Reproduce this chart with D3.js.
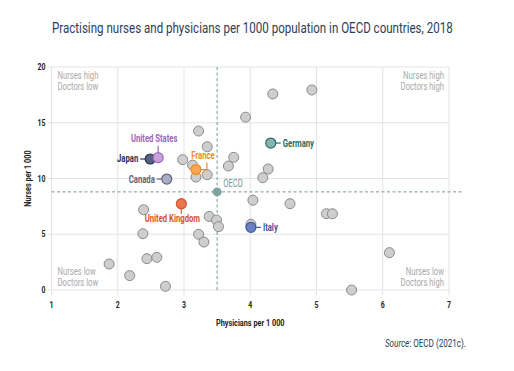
<!DOCTYPE html>
<html>
<head>
<meta charset="utf-8">
<script src="https://cdn.jsdelivr.net/npm/d3@7"></script>
<style>
  body { margin: 0; background: #fff; }
  svg text { font-family: Roboto, "Liberation Sans", sans-serif; }
</style>
</head>
<body>
<svg></svg>
<script>
const w = 514;
const h = 371;
const margin = { top: 67, right: 65, bottom: 81, left: 51.5 };
const squeeze = 0.77;

// other OECD countries (unlabelled)
const otherPhysicians = [1.87, 2.18, 2.38, 2.39, 2.44, 2.59, 2.72, 2.98, 3.13, 3.18, 3.22, 3.22, 3.30, 3.35, 3.35, 3.38, 3.49, 3.52, 3.67, 3.75, 3.93, 4.01, 4.04, 4.19, 4.27, 4.34, 4.60, 4.93, 5.15, 5.24, 5.53, 6.10];
const otherNurses = [2.33, 1.29, 5.05, 7.2, 2.81, 2.93, 0.33, 11.69, 11.2, 10.13, 14.26, 5.0, 4.3, 12.85, 10.34, 6.6, 6.28, 5.68, 11.12, 11.9, 15.5, 5.9, 8.05, 10.07, 10.85, 17.58, 7.74, 17.94, 6.84, 6.84, 0.0, 3.35];

// highlighted countries
const hlNames = ["Japan", "United States", "Canada", "France", "United Kingdom", "Germany", "Italy"];
const hlPhysicians = [2.49, 2.61, 2.74, 3.18, 2.96, 4.31, 4.01];
const hlNurses = [11.75, 11.87, 9.95, 10.8, 7.74, 13.18, 5.62];
const hlFill = ["#59637e", "#c8a2da", "#a9adc2", "#f8a650", "#e8764f", "#8ab3ad", "#6a82c4"];
const hlStroke = ["#27334f", "#a066bb", "#5f6482", "#f28a24", "#d5532f", "#1f6d69", "#3b56a0"];

const oecd = { physicians: 3.5, nurses: 8.8 };

const xTicks = [1, 2, 3, 4, 5, 6, 7];
const yTicks = [0, 5, 10, 15, 20];

const svg = d3.select("svg").attr("width", w).attr("height", h);

const x = d3.scaleLinear().domain([1, 7]).range([margin.left, w - margin.right]);
const y = d3.scaleLinear().domain([0, 20]).range([h - margin.bottom, margin.top]);

/** narrow text: the reference uses a condensed face */
const label = (px, py, str, opts = {}) => {
  const g = svg.append("g")
    .attr("transform", `translate(${px},${py}) rotate(${opts.rotate || 0}) scale(${opts.sx || squeeze},1)`);
  return g.append("text")
    .attr("text-anchor", opts.anchor || "start")
    .attr("font-size", opts.size || 9)
    .attr("font-weight", opts.weight || "normal")
    .attr("fill", opts.fill || "#222")
    .text(str);
};

// title, squeezed to the reference width
const title = label(52, 33, "Practising nurses and physicians per 1000 population in OECD countries, 2018",
  { size: 14, fill: "#2b3d58", sx: 1 });
const natural = title.node().getComputedTextLength();
d3.select(title.node().parentNode).attr("transform", `translate(52,33) scale(${401 / natural},1)`);

// gridlines
svg.append("g")
  .selectAll("line")
  .data(xTicks)
  .enter()
  .append("line")
  .attr("x1", (d) => x(d)).attr("x2", (d) => x(d))
  .attr("y1", y(20)).attr("y2", y(0) + 5)
  .attr("stroke", "#e3e3e3").attr("stroke-width", 1);

svg.append("g")
  .selectAll("line")
  .data(yTicks)
  .enter()
  .append("line")
  .attr("x1", x(1) - 4).attr("x2", x(7))
  .attr("y1", (d) => y(d)).attr("y2", (d) => y(d))
  .attr("stroke", "#e3e3e3").attr("stroke-width", 1);

// tick labels
xTicks.forEach((d) => label(x(d), y(0) + 18, d, { anchor: "middle", weight: "bold" }));
yTicks.forEach((d) => label(x(1) - 6, y(d) + 3, d, { anchor: "end", weight: "bold" }));

// axis titles
label(x(4), y(0) + 36, "Physicians per 1 000", { anchor: "middle", weight: "bold", size: 9.5 });
svg.append("g")
  .attr("transform", `translate(31,${y(10)}) rotate(-90) scale(${squeeze},1)`)
  .append("text")
  .attr("text-anchor", "middle")
  .attr("font-size", 9.5).attr("font-weight", "bold").attr("fill", "#222")
  .text("Nurses per 1 000");

// quadrant labels
const quad = [
  { lines: ["Nurses high", "Doctors low"], px: 1, py: 20, anchor: "start", dx: 6, dy: 12 },
  { lines: ["Nurses high", "Doctors high"], px: 7, py: 20, anchor: "end", dx: -5, dy: 12 },
  { lines: ["Nurses low", "Doctors low"], px: 1, py: 0, anchor: "start", dx: 6, dy: -15 },
  { lines: ["Nurses low", "Doctors high"], px: 7, py: 0, anchor: "end", dx: -5, dy: -15 }
];
quad.forEach((q) => {
  q.lines.forEach((l, i) => {
    label(x(q.px) + q.dx, y(q.py) + q.dy + i * 10.5, l, { anchor: q.anchor, fill: "#a9a9a9", size: 10 });
  });
});

// OECD average lines
svg.append("line")
  .attr("x1", x(1)).attr("x2", x(7) + 13)
  .attr("y1", y(oecd.nurses)).attr("y2", y(oecd.nurses))
  .attr("stroke", "#6f9a95").attr("stroke-width", 1).attr("stroke-dasharray", "3,2.5");
svg.append("line")
  .attr("x1", x(oecd.physicians)).attr("x2", x(oecd.physicians))
  .attr("y1", y(20)).attr("y2", y(0))
  .attr("stroke", "#6f9a95").attr("stroke-width", 1).attr("stroke-dasharray", "3,2.5");

// other countries
svg.append("g")
  .selectAll("circle")
  .data(otherPhysicians)
  .enter()
  .append("circle")
  .attr("cx", (d) => x(d))
  .attr("cy", (d, i) => y(otherNurses[i]))
  .attr("r", 5)
  .attr("fill", "#cecece").attr("stroke", "#8a8a8a").attr("stroke-width", 1);

// OECD point
svg.append("circle")
  .attr("cx", x(oecd.physicians)).attr("cy", y(oecd.nurses))
  .attr("r", 4.5).attr("fill", "#7fa39e");
label(x(oecd.physicians) + 6, y(oecd.nurses) - 5, "OECD", { fill: "#6f9a95", size: 10 });

// connectors and labels for highlighted countries
const lab = [
  { path: (cx, cy) => `M${cx - 5},${cy}H${cx - 10}`, tx: -12, ty: 3.5, anchor: "end" },
  { path: (cx, cy) => `M${cx},${cy - 5}V${cy - 12}`, tx: -4, ty: -16, anchor: "middle" },
  { path: (cx, cy) => `M${cx - 5},${cy}H${cx - 10}`, tx: -12, ty: 3.5, anchor: "end" },
  { path: (cx, cy) => `M${cx + 5},${cy}H${cx + 11}V${cy - 7}`, tx: 7, ty: -10.5, anchor: "middle" },
  { path: (cx, cy) => `M${cx},${cy + 5}V${cy + 10}`, tx: -9, ty: 18.5, anchor: "middle" },
  { path: (cx, cy) => `M${cx + 5},${cy}H${cx + 10}`, tx: 12, ty: 3.5, anchor: "start" },
  { path: (cx, cy) => `M${cx + 5},${cy}H${cx + 10}`, tx: 12, ty: 3.5, anchor: "start" }
];

hlNames.forEach((name, i) => {
  const cx = x(hlPhysicians[i]);
  const cy = y(hlNurses[i]);
  svg.append("path")
    .attr("d", lab[i].path(cx, cy))
    .attr("fill", "none").attr("stroke", hlStroke[i]).attr("stroke-width", 1.2);
  svg.append("circle")
    .attr("cx", cx).attr("cy", cy).attr("r", 5)
    .attr("fill", hlFill[i]).attr("stroke", hlStroke[i]).attr("stroke-width", 1.2);
  label(cx + lab[i].tx, cy + lab[i].ty, name, { anchor: lab[i].anchor, weight: "bold", fill: hlStroke[i], size: 10 });
});

// source
const src = label(466, 347, "", { anchor: "end", size: 10.5, fill: "#2b3d58" });
src.append("tspan").attr("font-style", "italic").text("Source");
src.append("tspan").text(": OECD (2021c).");
</script>
</body>
</html>
